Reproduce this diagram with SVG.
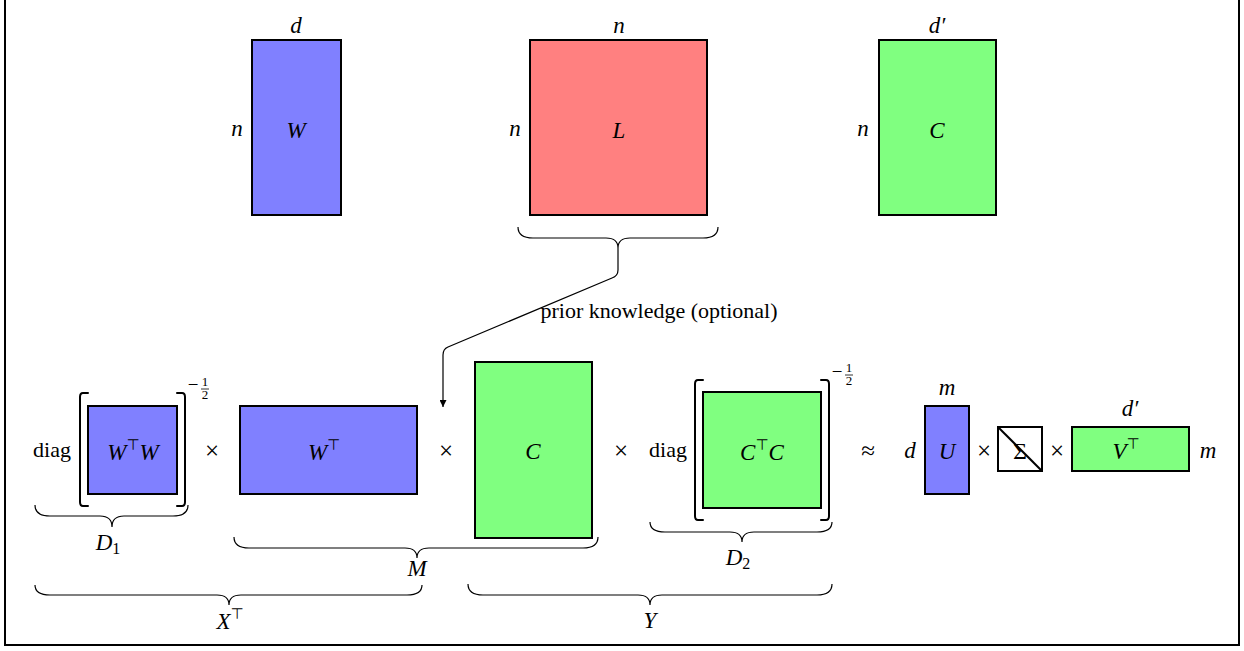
<svg xmlns="http://www.w3.org/2000/svg" width="1244" height="651" viewBox="0 0 1244 651">
<defs>
<style>
.frame{fill:#fff;stroke:#000;stroke-width:2}
.box{stroke:#000;stroke-width:2}
.blue{fill:#8080ff}
.red{fill:#ff8080}
.green{fill:#80ff80}
.white{fill:#fff}
.br{fill:none;stroke:#000;stroke-width:2;stroke-linecap:round;stroke-linejoin:round}
.brace{fill:none;stroke:#000;stroke-width:1.2}
.conn{fill:none;stroke:#000;stroke-width:1.2}
text{font-family:"Liberation Serif","DejaVu Serif",serif;fill:#000}
.m{font-style:italic;font-size:23px;text-anchor:middle}
.t{font-size:22px;text-anchor:middle}
.op{font-size:25px;text-anchor:middle}
.sup{font-family:"DejaVu Sans",sans-serif;font-style:normal;font-size:15px}
.sub{font-style:normal;font-size:16px}
.ex{font-size:19px;text-anchor:middle}
.exs{font-size:13px;text-anchor:middle}
</style>
<marker id="arr" viewBox="0 0 10 10" refX="10" refY="5" markerWidth="7" markerHeight="7" orient="auto" markerUnits="userSpaceOnUse">
<path d="M0,0 L10,5 L0,10 Z" fill="#000"/>
</marker>
</defs>
<rect class="frame" x="5" y="-2" width="1234" height="647"/>

<g id="W">
<rect class="box blue" x="252" y="40" width="89" height="175"/>
<text class="m" x="296" y="33">d</text>
<text class="m" x="237" y="136">n</text>
<text class="m" x="296" y="138">W</text>
</g>
<g id="L">
<rect class="box red" x="530" y="40" width="177" height="175"/>
<text class="m" x="619" y="33">n</text>
<text class="m" x="515" y="136">n</text>
<text class="m" x="619" y="138">L</text>
</g>
<g id="C">
<rect class="box green" x="879" y="40" width="117" height="175"/>
<text class="m" x="937" y="33">d′</text>
<text class="m" x="863" y="136">n</text>
<text class="m" x="937" y="138">C</text>
</g>

<g id="braceL">
<path class="brace" d="M518,227 Q518,238 533,238 L606,238 Q618,238 618,248 Q618,238 630,238 L703,238 Q718,238 718,227"/>
</g>

<g id="connectors">
<path class="conn" d="M618,248 L618,270 Q618,276 612,278 L448,347 Q443,349 443,355 L443,407" marker-end="url(#arr)"/>
<text class="t" x="659" y="318">prior knowledge (optional)</text>
</g>

<g id="D1">
<text class="t" x="52" y="457">diag</text>
<path class="br" d="M88,393 L83,393 Q80,393 80,397 L80,502 Q80,506 83,506 L88,506"/>
<path class="br" d="M177,393 L182,393 Q185,393 185,397 L185,502 Q185,506 182,506 L177,506"/>
<rect class="box blue" x="88" y="406" width="89" height="88"/>
<text class="m" x="133" y="460">W<tspan class="sup" dy="-10">⊤</tspan><tspan dy="10">W</tspan></text>
<text class="ex" x="193" y="391">−</text>
<text class="exs" x="205" y="386">1</text>
<line x1="201" y1="389" x2="209" y2="389" stroke="#000" stroke-width="0.8"/>
<text class="exs" x="205" y="399">2</text>
<path class="brace" d="M35,505 Q35,516 50,516 L100,516 Q112,516 112,527 Q112,516 124,516 L173,516 Q188,516 188,505"/>
<text class="m" x="108" y="550">D<tspan class="sub" dy="4">1</tspan></text>
</g>

<text class="op" x="212" y="459">×</text>

<g id="Wt">
<rect class="box blue" x="240" y="406" width="177" height="88"/>
<text class="m" x="324" y="460">W<tspan class="sup" dy="-10">⊤</tspan></text>
</g>

<text class="op" x="446" y="459">×</text>

<g id="Cmid">
<rect class="box green" x="475" y="362" width="117" height="176"/>
<text class="m" x="533" y="459">C</text>
</g>

<text class="op" x="621" y="459">×</text>

<g id="D2">
<text class="t" x="668" y="457">diag</text>
<path class="br" d="M703,380 L698,380 Q695,380 695,384 L695,516 Q695,520 698,520 L703,520"/>
<path class="br" d="M821,380 L826,380 Q829,380 829,384 L829,516 Q829,520 826,520 L821,520"/>
<rect class="box green" x="703" y="392" width="118" height="116"/>
<text class="m" x="762" y="460">C<tspan class="sup" dy="-10">⊤</tspan><tspan dy="10">C</tspan></text>
<text class="ex" x="837" y="378">−</text>
<text class="exs" x="849" y="372">1</text>
<line x1="845" y1="375" x2="853" y2="375" stroke="#000" stroke-width="0.8"/>
<text class="exs" x="849" y="385">2</text>
<path class="brace" d="M650,522 Q650,532 665,532 L730,532 Q742,532 742,542 Q742,532 754,532 L817,532 Q832,532 832,522"/>
<text class="m" x="738" y="565">D<tspan class="sub" dy="4">2</tspan></text>
</g>

<g id="Mbrace">
<path class="brace" d="M234,537 Q234,548 249,548 L405,548 Q417,548 417,558 Q417,548 429,548 L583,548 Q598,548 598,537"/>
<text class="m" x="417" y="576">M</text>
</g>

<g id="Xbrace">
<path class="brace" d="M35,585 Q35,595 50,595 L217,595 Q229,595 229,605 Q229,595 241,595 L407,595 Q422,595 422,585"/>
<text class="m" x="230" y="629">X<tspan class="sup" dy="-10">⊤</tspan></text>
</g>

<g id="Ybrace">
<path class="brace" d="M468,584 Q468,595 483,595 L638,595 Q650,595 650,605 Q650,595 662,595 L817,595 Q832,595 832,584"/>
<text class="m" x="650" y="628">Y</text>
</g>

<text class="op" x="868" y="459">≈</text>

<g id="U">
<text class="m" x="910" y="458">d</text>
<text class="m" x="947" y="395">m</text>
<rect class="box blue" x="925" y="406" width="44" height="88"/>
<text class="m" x="947" y="459">U</text>
</g>

<text class="op" x="984" y="459">×</text>

<g id="Sigma">
<rect class="box white" x="998" y="427" width="44" height="44"/>
<text class="t" x="1020" y="459" style="font-size:24px">Σ</text>
<line x1="998" y1="427" x2="1042" y2="471" stroke="#000" stroke-width="2"/>
</g>

<text class="op" x="1057" y="459">×</text>

<g id="Vt">
<text class="m" x="1130" y="416">d′</text>
<rect class="box green" x="1072" y="427" width="117" height="44"/>
<text class="m" x="1126" y="459">V<tspan class="sup" dy="-10">⊤</tspan></text>
<text class="m" x="1208" y="458">m</text>
</g>
</svg>
